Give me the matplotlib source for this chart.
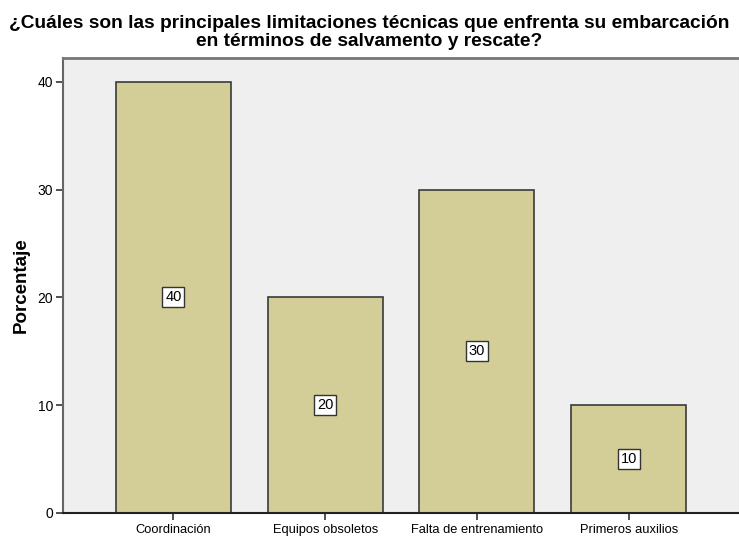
import numpy as np
import matplotlib.pyplot as plt

categories = ["Coordinación", "Equipos obsoletos", "Falta de entrenamiento", "Primeros auxilios"]
porcentajes = [40, 20, 30, 10]
y_ticks = [0, 10, 20, 30, 40]

plt.rcParams['font.family'] = ['Liberation Sans', 'DejaVu Sans']

fig = plt.figure(figsize=(7.39, 5.37), dpi=100)
ax = fig.add_axes([0.0853, 0.0447, 0.9147, 0.8473])
ax.set_facecolor("#efefef")

x = np.arange(len(categories))
ax.bar(x, porcentajes, width=0.757, color="#d3ce97", edgecolor="#3a3a3a", linewidth=1.2, zorder=2)

# value labels in white boxes at mid-height
for xi, v in zip(x, porcentajes):
    ax.text(xi, v / 2, str(v), ha="center", va="center", fontsize=10.5, zorder=3,
            bbox=dict(boxstyle="square,pad=0.2", facecolor="white", edgecolor="#333333", linewidth=1))

ax.set_xlim(-0.727, 3.727)
ax.set_ylim(0, 42.2)
ax.set_xticks(x)
ax.set_xticklabels(categories, fontsize=9.3)
ax.set_yticks(y_ticks)
ax.tick_params(axis="y", labelsize=10, length=5, width=1.2, color="#333333", pad=2)
ax.tick_params(axis="x", length=5, width=1.2, color="#333333", pad=3)

ax.spines["left"].set_color("#666666")
ax.spines["left"].set_linewidth(1.5)
ax.spines["bottom"].set_color("#222222")
ax.spines["bottom"].set_linewidth(1.5)
ax.spines["top"].set_color("#777777")
ax.spines["top"].set_linewidth(2)
ax.spines["right"].set_color("#bbbbbb")

ax.set_ylabel("Porcentaje", fontsize=13.5, fontweight="bold", labelpad=6)

fig.text(0.5, 0.939, "¿Cuáles son las principales limitaciones técnicas que enfrenta su embarcación\nen términos de salvamento y rescate?",
         ha="center", va="center", fontsize=13.8, fontweight="bold", linespacing=1.1)

fig.savefig("out.png", dpi=100)
